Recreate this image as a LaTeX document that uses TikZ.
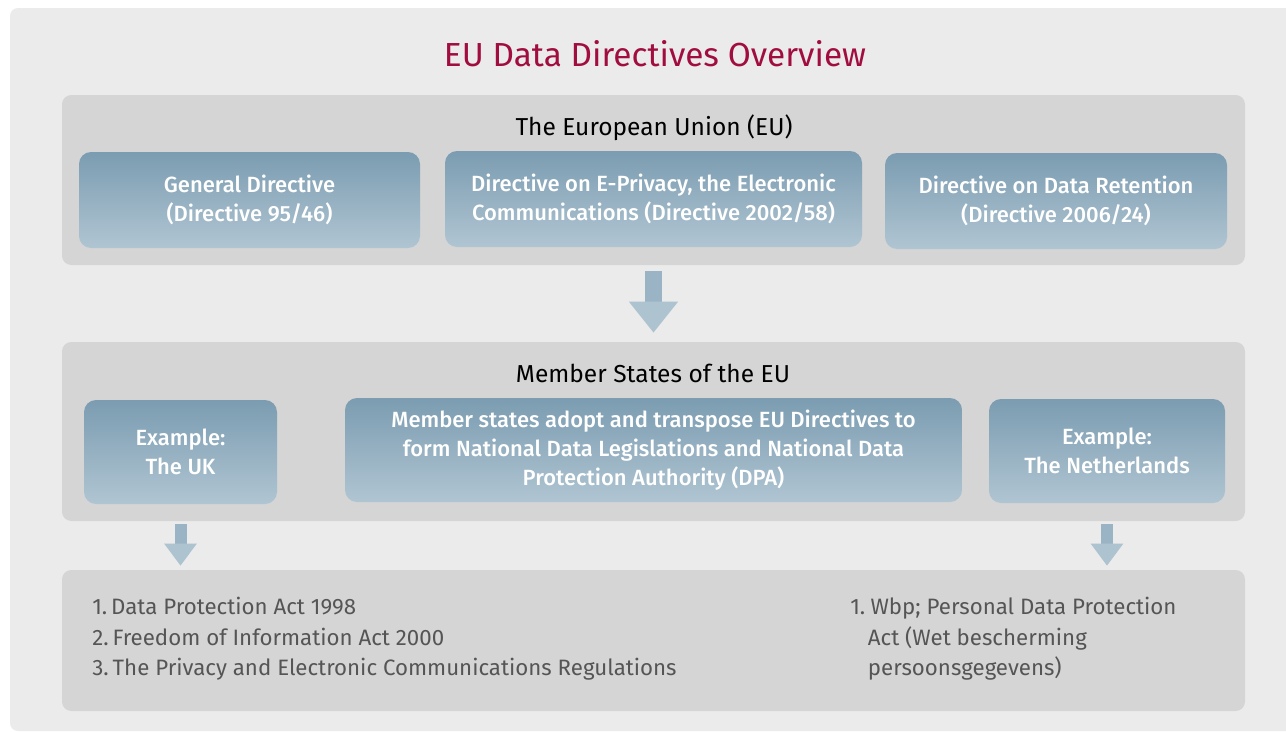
\documentclass[tikz,border=0pt]{standalone}
\usepackage{fontspec}
\setmainfont{Fira Sans}
\newfontfamily\firamed{Fira Sans Medium}
\usetikzlibrary{positioning,arrows.meta,fit}
\definecolor{fondo}{HTML}{EBEBEB}
\definecolor{banda}{HTML}{D5D5D5}
\definecolor{cajaarr}{HTML}{7B9CB1}
\definecolor{cajaab}{HTML}{B0C5D2}
\definecolor{rojo}{HTML}{A00D3E}
\definecolor{gristxt}{HTML}{555555}
\definecolor{flecha}{HTML}{9BB4C5}
\definecolor{punta}{HTML}{AEC3D0}

\begin{document}
\begin{tikzpicture}[x=0.75pt,y=-0.75pt,
        banda/.style={fill=banda,rounded corners=7pt,inner sep=0pt},
        caja/.style={rounded corners=9pt,top color=cajaarr,bottom color=cajaab,
          text=white,align=center,minimum height=#1,
          font=\firamed\fontsize{16.5}{21.5}\selectfont},
        caja/.default=72pt,
        cab/.style={font=\fontsize{18.4}{22}\selectfont},
        lista/.style={anchor=north west,align=left,inner sep=0pt,text=gristxt,
          font=\fontsize{16.7}{23}\selectfont},
        gruesa/.style={flecha,line width=12.75pt,
          -{Triangle[length=23.25pt,width=35.25pt,fill=punta,color=punta]}},
        fina/.style={flecha,line width=9pt,
          -{Triangle[length=16.5pt,width=23.25pt,fill=punta,color=punta]}}]
        \useasboundingbox (0,0) rectangle (1286,732);
        \fill[fondo,rounded corners=6pt] (10,8) rectangle (1300,731);
        \node[text=rojo,font=\fontsize{25}{30}\selectfont] (tit) at (655,54) {EU Data Directives Overview};
        % tres bandas grises
        \node[banda,fit={(62,95) (1245,265)}] (ue) {};
        \node[banda,fit={(62,342) (1245,521)}] (em) {};
        \node[banda,fit={(62,570) (1245,711)}] (ley) {};
        \node[cab] (cue) at (654,128) {The European Union (EU)};
        \node[cab] (cem) at (653,373) {Member States of the EU};
        % directivas
        \node[caja,minimum width=255.75pt] (gen) at (249.5,200) {General Directive\\(Directive 95/46)};
        \node[caja,minimum width=312.75pt] (epr) at (653.5,199) {Directive on E-Privacy, the Electronic\\Communications (Directive 2002/58)};
        \node[caja,minimum width=256.5pt] (ret) at (1056,201) {Directive on Data Retention\\(Directive 2006/24)};
        % estados miembros
        \node[caja=78pt,minimum width=144.75pt] (uk) at (180.5,452) {Example:\\The UK};
        \node[caja=78pt,minimum width=462.75pt] (tra) at (653.5,450) {Member states adopt and transpose EU Directives to\\form National Data Legislations and National Data\\Protection Authority (DPA)};
        \node[caja=78pt,minimum width=177pt] (nl) at (1107,451) {Example:\\The Netherlands};
        % leyes nacionales
        \node[lista] (lkuk) at (92,597) {1.\hspace{3pt}Data Protection Act 1998\\2.\hspace{3pt}Freedom of Information Act 2000\\3.\hspace{3pt}The Privacy and Electronic Communications Regulations};
        \node[lista] (lknl) at (850,597) {1.\hspace{4pt}Wbp; Personal Data Protection\\\phantom{1.\hspace{2pt}}Act (Wet bescherming\\\phantom{1.\hspace{2pt}}persoonsgegevens)};
        \draw[gruesa] ([yshift=-4.5pt]ue.south) -- ([yshift=6.75pt]em.north);
        \draw[fina] ([yshift=-2.25pt]em.south -| uk.south) -- ([yshift=3pt]ley.north -| uk.south);
        \draw[fina] ([yshift=-2.25pt]em.south -| nl.south) -- ([yshift=3pt]ley.north -| nl.south);
      \end{tikzpicture}
\end{document}
